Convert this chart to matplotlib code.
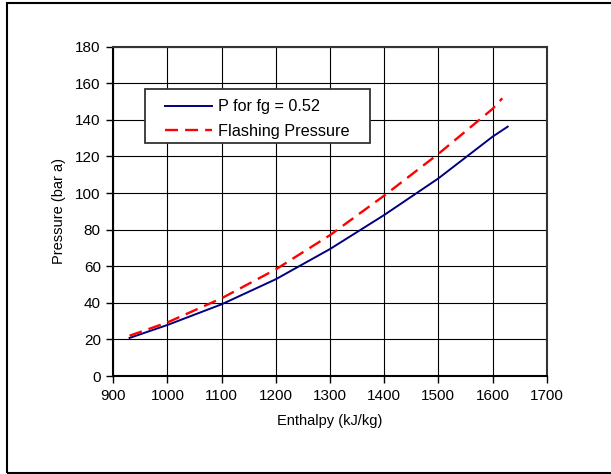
import matplotlib.pyplot as plt
from matplotlib.patches import Rectangle

plt.rcParams["font.family"] = ["Liberation Sans", "DejaVu Sans"]

# values
enthalpy_fg = [930, 1000, 1100, 1200, 1300, 1400, 1500, 1600, 1628]
pressure_fg = [20.8, 27.9, 39.2, 52.9, 69.4, 88.0, 108.0, 130.8, 136.3]

enthalpy_flash = [930, 1000, 1100, 1200, 1300, 1400, 1500, 1600, 1618]
pressure_flash = [22.0, 29.3, 42.5, 58.3, 77.0, 98.6, 121.4, 146.0, 151.8]

x_ticks = [900, 1000, 1100, 1200, 1300, 1400, 1500, 1600, 1700]
y_ticks = [0, 20, 40, 60, 80, 100, 120, 140, 160, 180]

figure = plt.figure(figsize=(6.11, 4.74), dpi=100)
figure.patches.append(
    Rectangle(
        (6.5 / 611, 1.5 / 474),
        1.2,
        (470.0) / 474,
        transform=figure.transFigure,
        fill=False,
        edgecolor="black",
        linewidth=1.5,
        zorder=0,
    )
)

axis = figure.add_axes([113.3 / 611, 1 - 376 / 474, 433.4 / 611, 329.3 / 474])

axis.plot(
    enthalpy_fg,
    pressure_fg,
    color="#000080",
    linewidth=1.4,
    label="P for fg = 0.52",
    zorder=3,
)
axis.plot(
    enthalpy_flash,
    pressure_flash,
    color="#ff0000",
    linewidth=1.7,
    linestyle=(0, (5.5, 3)),
    label="Flashing Pressure",
    zorder=3,
)

axis.set_xlim(900, 1700)
axis.set_ylim(0, 180)
axis.set_xticks(x_ticks)
axis.set_yticks(y_ticks)
axis.tick_params(
    direction="out",
    length=5,
    width=1,
    color="black",
    labelsize=11,
    pad=4,
)
axis.grid(True, color="black", linewidth=0.8)
axis.set_axisbelow(True)

for side in ("left", "bottom"):
    axis.spines[side].set_linewidth(1.5)
    axis.spines[side].set_color("black")
for side in ("top", "right"):
    axis.spines[side].set_linewidth(1.5)
    axis.spines[side].set_color("#333333")

axis.set_xlabel("Enthalpy (kJ/kg)", fontsize=10.5, labelpad=8)
axis.set_ylabel("Pressure (bar a)", fontsize=10.5, labelpad=7)

# legend frame drawn separately so the entries sit centred inside it
axis.add_patch(
    Rectangle(
        (0.073, 0.707),
        0.519,
        0.164,
        transform=axis.transAxes,
        facecolor="white",
        edgecolor="#333333",
        linewidth=1.3,
        zorder=4,
    )
)
legend = axis.legend(
    loc="center",
    bbox_to_anchor=(0.3325, 0.780),
    fontsize=11.7,
    frameon=False,
    handlelength=2.9,
    handletextpad=0.35,
    borderaxespad=0,
    borderpad=0,
    labelspacing=0.6,
)
legend.set_zorder(5)

figure.savefig("out.png", dpi=100)
